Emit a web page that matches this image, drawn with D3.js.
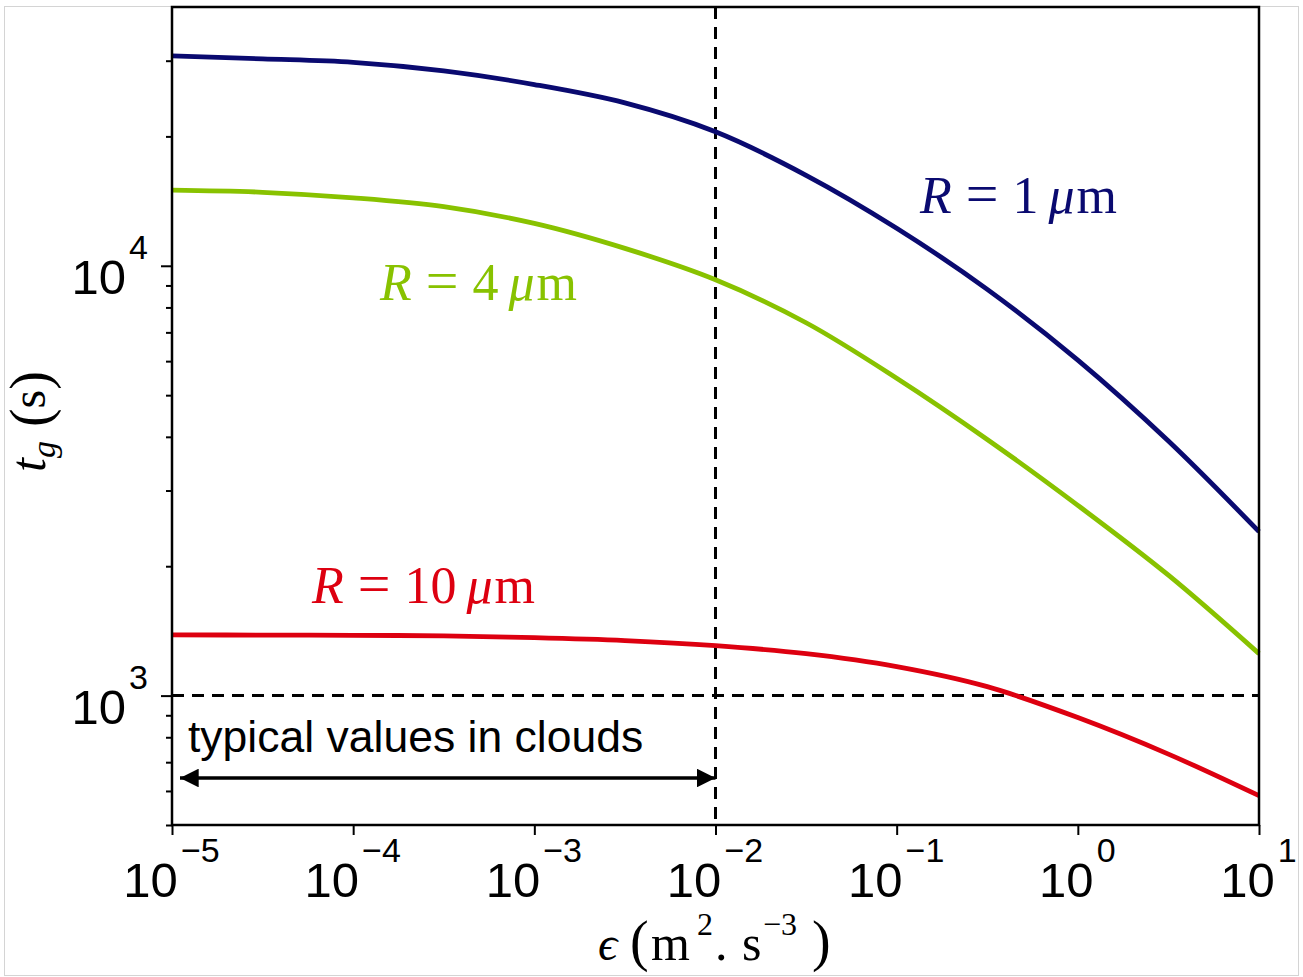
<!DOCTYPE html>
<html><head><meta charset="utf-8">
<script src="https://cdn.jsdelivr.net/npm/d3@7"></script>
<style>body{margin:0;background:#fff} svg{display:block}</style>
</head><body>
<svg id="chart" width="1303" height="977"></svg>
<script>
// ---- data ----
const epsilon = [1e-5, 3.162e-5, 1e-4, 3.162e-4, 1e-3, 3.162e-3, 1e-2, 3.162e-2, 1e-1, 3.162e-1, 1, 3.162, 10];
const tgR1  = [30790, 30300, 29740, 28410, 26400, 23930, 20500, 16240, 12230, 8813, 6033, 3911, 2407];
const tgR4  = [14997, 14825, 14390, 13722, 12548, 10976, 9278, 7370, 5476, 3945, 2771, 1906, 1252];
const tgR10 = [1384, 1383, 1381, 1377, 1364, 1343, 1307, 1252, 1168, 1049, 889, 731, 585];
const seriesRadius = ["1", "4", "10"];
const seriesColors = ["#0a0a70", "#88c200", "#dd0010"];
const xTickExponents = [-5, -4, -3, -2, -1, 0, 1];
const yTickExponents = [3, 4];
const yMinorTicks = [500, 600, 700, 800, 900, 2000, 3000, 4000, 5000, 6000, 7000, 8000, 9000, 20000, 30000];
const cloudEpsMax = 1e-2;
const tgThreshold = 1000;
const annotation = "typical values in clouds";

// ---- layout ----
const svg = d3.select("#chart");
const L = 172, R = 1259, T = 7, B = 825;
const x = d3.scaleLog().domain([1e-5, 10]).range([L, R]);
const y = d3.scaleLog().domain([500, 40000]).range([B, T]);

// outer light frame
svg.append("rect").attr("x", 4.5).attr("y", 6.5).attr("width", 1294).attr("height", 969)
  .attr("fill", "none").attr("stroke", "#d4d4d4").attr("stroke-width", 1);

// axes ticks
const gx = svg.append("g").attr("transform", `translate(0,${B})`)
  .call(d3.axisBottom(x).tickValues(xTickExponents.map(e => Math.pow(10, e))).tickSize(10).tickFormat(""));
const gyMinor = svg.append("g").attr("transform", `translate(${L},0)`)
  .call(d3.axisLeft(y).tickValues(yMinorTicks).tickSize(6).tickFormat(""));
const gy = svg.append("g").attr("transform", `translate(${L},0)`)
  .call(d3.axisLeft(y).tickValues(yTickExponents.map(e => Math.pow(10, e))).tickSize(11).tickFormat(""));
[gx, gy, gyMinor].forEach(g => {
  g.select(".domain").remove();
  g.selectAll(".tick line").attr("stroke", "#000").attr("stroke-width", 2);
});

// tick labels
const sans = "'Liberation Sans', Arial, sans-serif";
gx.selectAll(".tick").each(function(d, i) {
  const t = d3.select(this).append("text").attr("fill", "#000").attr("font-family", sans)
    .attr("text-anchor", "middle").attr("y", 72).attr("x", -1);
  t.append("tspan").attr("font-size", 49).text("10");
  const ex = xTickExponents[i];
  t.append("tspan").attr("font-size", 34).attr("dy", -35).attr("dx", 3).text(ex < 0 ? "\u2212" + (-ex) : String(ex));
});
gy.selectAll(".tick").each(function(d, i) {
  const t = d3.select(this).append("text").attr("fill", "#000").attr("font-family", sans)
    .attr("text-anchor", "end").attr("x", -24).attr("y", 28);
  t.append("tspan").attr("font-size", 49).text("10");
  t.append("tspan").attr("font-size", 34).attr("dy", -35).attr("dx", 3).text(String(yTickExponents[i]));
});

// reference dashed lines
svg.append("line").attr("x1", x(cloudEpsMax)).attr("x2", x(cloudEpsMax)).attr("y1", T).attr("y2", B)
  .attr("stroke", "#000").attr("stroke-width", 3).attr("stroke-dasharray", "12,8");
svg.append("line").attr("x1", L).attr("x2", R).attr("y1", y(tgThreshold)).attr("y2", y(tgThreshold))
  .attr("stroke", "#000").attr("stroke-width", 3).attr("stroke-dasharray", "12,8");

// curves
const line = d3.line().x(d => x(d[0])).y(d => y(d[1])).curve(d3.curveCatmullRom.alpha(0.5));
[tgR1, tgR4, tgR10].forEach((vals, i) => {
  svg.append("path").datum(epsilon.map((e, k) => [e, vals[k]]))
    .attr("d", line).attr("fill", "none").attr("stroke", seriesColors[i])
    .attr("stroke-width", 4.8).attr("stroke-linejoin", "round");
});

// series labels (LaTeX-like)
const serif = "'Liberation Serif', 'DejaVu Serif', serif";
const labelPos = [[920, 213], [380, 300], [312, 603]];
seriesRadius.forEach((r, i) => {
  const t = svg.append("text").attr("x", labelPos[i][0]).attr("y", labelPos[i][1])
    .attr("font-family", serif).attr("font-size", 52).attr("fill", seriesColors[i]);
  t.append("tspan").attr("font-style", "italic").text("R");
  t.append("tspan").attr("dx", 14).attr("font-size", 58).text("=");
  t.append("tspan").attr("dx", 14).text(r);
  t.append("tspan").attr("dx", 10).attr("font-style", "italic").text("\u03bc");
  t.append("tspan").attr("dx", 2).text("m");
});

// annotation + arrow
svg.append("text").attr("x", 188).attr("y", 752).attr("font-family", sans).attr("font-size", 44.5)
  .attr("fill", "#000").text(annotation);
const defs = svg.append("defs");
["start", "end"].forEach(k => {
  defs.append("marker").attr("id", "ah-" + k).attr("viewBox", "0 0 10 10")
    .attr("refX", 10).attr("refY", 5).attr("markerWidth", 5.5).attr("markerHeight", 5.5)
    .attr("markerUnits", "strokeWidth").attr("orient", k === "start" ? "auto-start-reverse" : "auto")
    .append("path").attr("d", "M0,0 L10,5 L0,10 Z").attr("fill", "#000");
});
svg.append("line").attr("x1", x(1e-5) + 8).attr("x2", x(cloudEpsMax)).attr("y1", 778).attr("y2", 778)
  .attr("stroke", "#000").attr("stroke-width", 3.4)
  .attr("marker-start", "url(#ah-start)").attr("marker-end", "url(#ah-end)");

// spines (full box)
svg.append("rect").attr("x", L).attr("y", T).attr("width", R - L).attr("height", B - T)
  .attr("fill", "none").attr("stroke", "#000").attr("stroke-width", 2.5);

// x axis label
const xl = svg.append("text").attr("y", 960).attr("font-family", serif).attr("fill", "#000");
xl.append("tspan").attr("x", 598).attr("font-size", 48).attr("font-style", "italic").text("\u03f5");
xl.append("tspan").attr("x", 630).attr("font-size", 56).text("(");
xl.append("tspan").attr("x", 651).attr("font-size", 50).text("m");
xl.append("tspan").attr("x", 697).attr("font-size", 32).attr("dy", -25).text("2");
xl.append("tspan").attr("x", 715).attr("font-size", 50).attr("dy", 25).text(".");
xl.append("tspan").attr("x", 742).attr("font-size", 50).text("s");
xl.append("tspan").attr("x", 763).attr("font-size", 32).attr("dy", -25).text("\u22123");
xl.append("tspan").attr("x", 812).attr("font-size", 56).attr("dy", 25).text(")");

// y axis label
const yl = svg.append("text").attr("transform", "translate(45,472) rotate(-90)")
  .attr("font-family", serif).attr("fill", "#000");
yl.append("tspan").attr("font-size", 50).attr("font-style", "italic").text("t");
yl.append("tspan").attr("font-size", 34).attr("font-style", "italic").attr("dy", 10).text("g");
yl.append("tspan").attr("font-size", 56).attr("dy", -6).attr("dx", 14).text("(");
yl.append("tspan").attr("font-size", 48).attr("dy", -4).text("s");
yl.append("tspan").attr("font-size", 56).attr("dy", 4).text(")");
</script>
</body></html>
